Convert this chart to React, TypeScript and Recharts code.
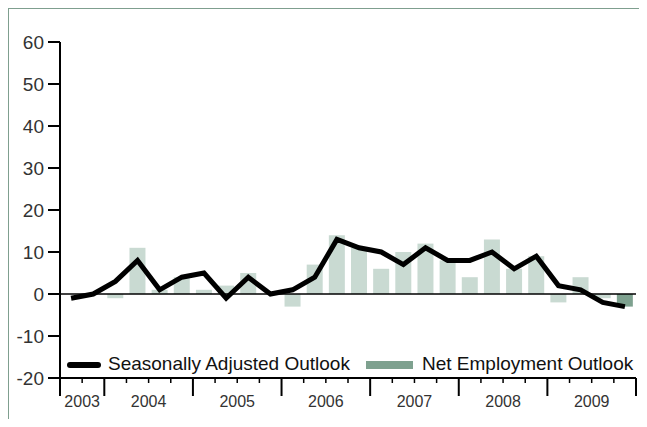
import { ComposedChart, Bar, Line, XAxis, YAxis, ReferenceLine, Cell } from "recharts"

const years = ["2003", "2004", "2005", "2006", "2007", "2008", "2009"]
const quartersPerYear = [2, 4, 4, 4, 4, 4, 4]

const quarters = [
  "2003 Q3", "2003 Q4",
  "2004 Q1", "2004 Q2", "2004 Q3", "2004 Q4",
  "2005 Q1", "2005 Q2", "2005 Q3", "2005 Q4",
  "2006 Q1", "2006 Q2", "2006 Q3", "2006 Q4",
  "2007 Q1", "2007 Q2", "2007 Q3", "2007 Q4",
  "2008 Q1", "2008 Q2", "2008 Q3", "2008 Q4",
  "2009 Q1", "2009 Q2", "2009 Q3", "2009 Q4",
]

const seasonallyAdjusted = [
  -1, 0,
  3, 8, 1, 4,
  5, -1, 4, 0,
  1, 4, 13, 11,
  10, 7, 11, 8,
  8, 10, 6, 9,
  2, 1, -2, -3,
]

const netEmployment = [
  null, null,
  -1, 11, 1, 4,
  1, 2, 5, 0,
  -3, 7, 14, 11,
  6, 10, 12, 8,
  4, 13, 6, 9,
  -2, 4, -1, -3,
]

const yTicks = [-20, -10, 0, 10, 20, 30, 40, 50, 60]

const data = quarters.map((q, i) => ({
  quarter: q,
  pos: i + 0.5,
  sa: seasonallyAdjusted[i],
  net: netEmployment[i],
}))

// year boundaries and centres in quarter units
const yearEdges: number[] = [0]
const yearCenters: { [k: number]: string } = {}
quartersPerYear.forEach((n, i) => {
  const start = yearEdges[yearEdges.length - 1]
  yearCenters[start + n / 2] = years[i]
  yearEdges.push(start + n)
})
const xTicks = Array.from({ length: quarters.length + 1 }, (_, i) => i)

const FONT = '"Liberation Sans", Arial, Helvetica, sans-serif'
const LIGHT = "#c9dad2"
const DARK = "#7ea18f"
const FRAME = "#7f9f8f"

const QuarterTick = (props: any) => {
  const { x, y, payload } = props
  const v = payload.value
  const major = yearEdges.includes(v)
  const label = yearCenters[v]
  return (
    <g>
      <line x1={x} x2={x} y1={y} y2={y + (major ? 18 : 5)} stroke="#000" strokeWidth={major ? 2 : 1.5} />
      {label && (
        <text x={x} y={y + 29} textAnchor="middle" fontSize={16} fill="#333" fontFamily={FONT}>
          {label}
        </text>
      )}
    </g>
  )
}

export default function App() {
  return (
    <div style={{ position: "relative", width: 647, height: 427, margin: -8, background: "#fff", fontFamily: FONT }}>
      <div
        style={{
          position: "absolute",
          left: 7,
          top: 7,
          width: 640,
          height: 420,
          borderTop: `2px solid ${FRAME}`,
          borderLeft: `2px solid ${FRAME}`,
        }}
      />
      <ComposedChart width={647} height={427} data={data} margin={{ top: 42, right: 11, left: 0, bottom: 9 }}>
        <XAxis
          dataKey="pos"
          type="number"
          domain={[0, quarters.length]}
          ticks={xTicks}
          interval={0}
          height={40}
          tickSize={0}
          tickMargin={0}
          tickLine={false}
          axisLine={{ stroke: "#000", strokeWidth: 2 }}
          tick={<QuarterTick />}
        />
        <YAxis
          domain={[-20, 60]}
          ticks={yTicks}
          width={60}
          tickSize={12}
          tickMargin={4}
          axisLine={{ stroke: "#000", strokeWidth: 2 }}
          tickLine={{ stroke: "#000", strokeWidth: 2 }}
          tick={{ fontSize: 19, fill: "#333", fontFamily: FONT }}
        />
        <Bar dataKey="net" barSize={16} isAnimationActive={false}>
          {data.map((d, i) => (
            <Cell key={d.quarter} fill={i === data.length - 1 ? DARK : LIGHT} />
          ))}
        </Bar>
        <ReferenceLine y={0} stroke="#000" strokeWidth={1.5} />
        <Line
          dataKey="sa"
          type="linear"
          stroke="#000"
          strokeWidth={5}
          dot={false}
          isAnimationActive={false}
        />
      </ComposedChart>
      <div style={{ position: "absolute", left: 67, top: 362, width: 34, height: 6, background: "#000", borderRadius: 3 }} />
      <span style={{ position: "absolute", left: 108, top: 354, fontSize: 19, lineHeight: "19px", color: "#111", whiteSpace: "nowrap" }}>
        Seasonally Adjusted Outlook
      </span>
      <div style={{ position: "absolute", left: 366, top: 361, width: 47, height: 8, background: DARK }} />
      <span style={{ position: "absolute", left: 422, top: 354, fontSize: 19, lineHeight: "19px", color: "#111", whiteSpace: "nowrap" }}>
        Net Employment Outlook
      </span>
    </div>
  )
}
